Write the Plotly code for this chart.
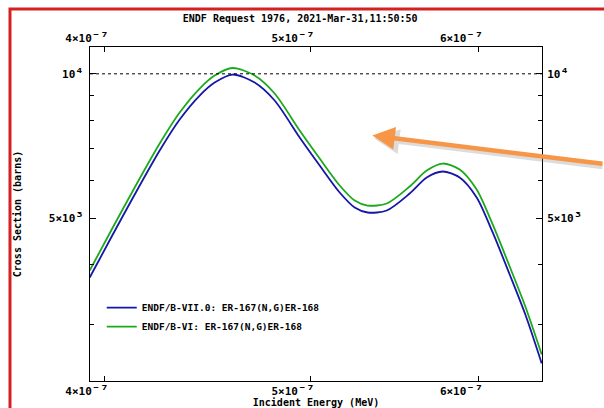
import math
import plotly.graph_objects as go

# ---- data ----
energy_blue = [3.9386e-7, 4.0335e-7, 4.1351e-7, 4.2485e-7, 4.3414e-7, 4.4364e-7, 4.5090e-7,
               4.5978e-7, 4.7085e-7, 4.8116e-7, 4.9437e-7, 5.0520e-7, 5.1625e-7, 5.2470e-7,
               5.3214e-7, 5.4320e-7, 5.5689e-7, 5.6724e-7, 5.7715e-7, 5.8786e-7, 5.9878e-7,
               6.0925e-7, 6.2056e-7, 6.3141e-7, 6.4245e-7]
xs_blue = [3756, 4574, 5598, 6917, 8028, 9010, 9590, 9966, 9590, 8796, 7363, 6435,
           5652, 5259, 5134, 5183, 5624, 6074, 6252, 6074, 5518, 4665, 3811, 3129, 2485]

energy_green = [3.9386e-7, 4.0335e-7, 4.1351e-7, 4.2485e-7, 4.3414e-7, 4.4364e-7, 4.5090e-7,
                4.5978e-7, 4.7085e-7, 4.8116e-7, 4.9437e-7, 5.0520e-7, 5.1625e-7, 5.2470e-7,
                5.3214e-7, 5.4320e-7, 5.5689e-7, 5.6724e-7, 5.7715e-7, 5.8786e-7, 5.9878e-7,
                6.0925e-7, 6.2056e-7, 6.3141e-7, 6.4245e-7]
xs_green = [3885, 4731, 5790, 7152, 8302, 9318, 9919, 10283, 9919, 9096, 7614, 6655,
            5846, 5439, 5309, 5361, 5818, 6283, 6497, 6314, 5734, 4847, 3960, 3252, 2594]

name_blue = "ENDF/B-VII.0: ER-167(N,G)ER-168"
name_green = "ENDF/B-VI: ER-167(N,G)ER-168"

SUP = "<span style='font-size:14px'>{}</span>"
x_tickvals = [4e-7, 5e-7, 6e-7]
x_ticktext = ["4×10" + SUP.format("⁻⁷"), "5×10" + SUP.format("⁻⁷"), "6×10" + SUP.format("⁻⁷")]
y_tickvals = [5000, 10000]
y_ticktext = ["5×10" + SUP.format("³"), "10" + SUP.format("⁴")]
y_minor = [3000, 4000, 6000, 7000, 8000, 9000]

x_range = [math.log10(3.9398e-7), math.log10(6.4266e-7)]
y_range = [math.log10(2284), math.log10(11376)]

title_text = "ENDF Request 1976, 2021-Mar-31,11:50:50"
FONT = "DejaVu Sans Mono"

fig = go.Figure()
fig.add_trace(go.Scatter(x=energy_blue, y=xs_blue, mode="lines", name=name_blue,
                         line=dict(color="#1616A8", width=1.8, shape="spline", smoothing=0.8)))
fig.add_trace(go.Scatter(x=energy_green, y=xs_green, mode="lines", name=name_green,
                         line=dict(color="#1CAA1C", width=1.8, shape="spline", smoothing=0.8)))
# invisible copy so that the mirrored top / right axes are drawn
fig.add_trace(go.Scatter(x=energy_blue, y=xs_blue, mode="lines", xaxis="x2", yaxis="y2",
                         line=dict(width=0, color="rgba(0,0,0,0)"), opacity=0,
                         showlegend=False, hoverinfo="skip"))

tick_font = dict(family=FONT, size=11, color="black", weight="bold")
axis_common = dict(showline=True, linecolor="black", linewidth=1, ticks="inside",
                   tickcolor="black", showgrid=False, zeroline=False, automargin=False,
                   tickfont=tick_font)

fig.update_layout(
    width=604, height=408,
    margin=dict(l=90, r=62, t=47, b=27, pad=0),
    paper_bgcolor="white", plot_bgcolor="white",
    title=dict(text=title_text, x=0.497, xanchor="center", y=0.955, yanchor="middle",
               font=dict(family=FONT, size=10, color="black", weight="bold")),
    xaxis=dict(type="log", range=x_range, tickvals=x_tickvals, ticktext=x_ticktext,
               ticklen=5, ticklabelshift=-17,
               title=dict(text="Incident Energy (MeV)", standoff=5,
                          font=dict(family=FONT, size=10, color="black", weight="bold")),
               **axis_common),
    xaxis2=dict(type="log", range=x_range, tickvals=x_tickvals, ticktext=x_ticktext,
                overlaying="x", side="top", anchor="y2", ticklen=5, ticklabelshift=-17,
                **axis_common),
    yaxis=dict(type="log", range=y_range, tickvals=y_tickvals, ticktext=y_ticktext,
               ticklen=6, ticklabelstandoff=3,
               minor=dict(tickvals=y_minor, ticklen=4, ticks="inside", tickcolor="black"),
               title=dict(text="Cross Section (barns)", standoff=25,
                          font=dict(family=FONT, size=10, color="black", weight="bold")),
               **axis_common),
    yaxis2=dict(type="log", range=y_range, tickvals=y_tickvals, ticktext=y_ticktext,
                overlaying="y", side="right", anchor="x2", ticklen=6, ticklabelstandoff=2,
                minor=dict(tickvals=y_minor, ticklen=4, ticks="inside", tickcolor="black"),
                **axis_common),
    legend=dict(x=0.026, y=0.263, xanchor="left", yanchor="top", bgcolor="rgba(0,0,0,0)",
                font=dict(family=FONT, size=9.5, color="black", weight="bold"),
                tracegroupgap=0),
    showlegend=True,
)

# dotted reference line at 10^4
fig.add_shape(type="line", xref="paper", yref="y", x0=0, x1=1, y0=10000, y1=10000,
              line=dict(color="black", width=1, dash="dot"))

# red frame of the screenshot
fig.add_shape(type="rect", xref="paper", yref="paper", x0=-0.177, x1=1.4, y0=-0.3, y1=1.114,
              line=dict(color="#D42020", width=3), layer="above")

# orange arrow with soft shadow
for dx, dy, col, w in [(2, 3, "rgba(120,120,120,0.25)", 5), (0, 0, "#F79646", 4.5)]:
    fig.add_annotation(xref="paper", yref="paper", x=0.6246 + dx / 452.1, y=0.735 - dy / 334.0,
                       ax=240, ay=28.5, text="", showarrow=True, arrowhead=2, arrowsize=1,
                       arrowwidth=w, arrowcolor=col, standoff=0)

fig.write_html("out.html")
